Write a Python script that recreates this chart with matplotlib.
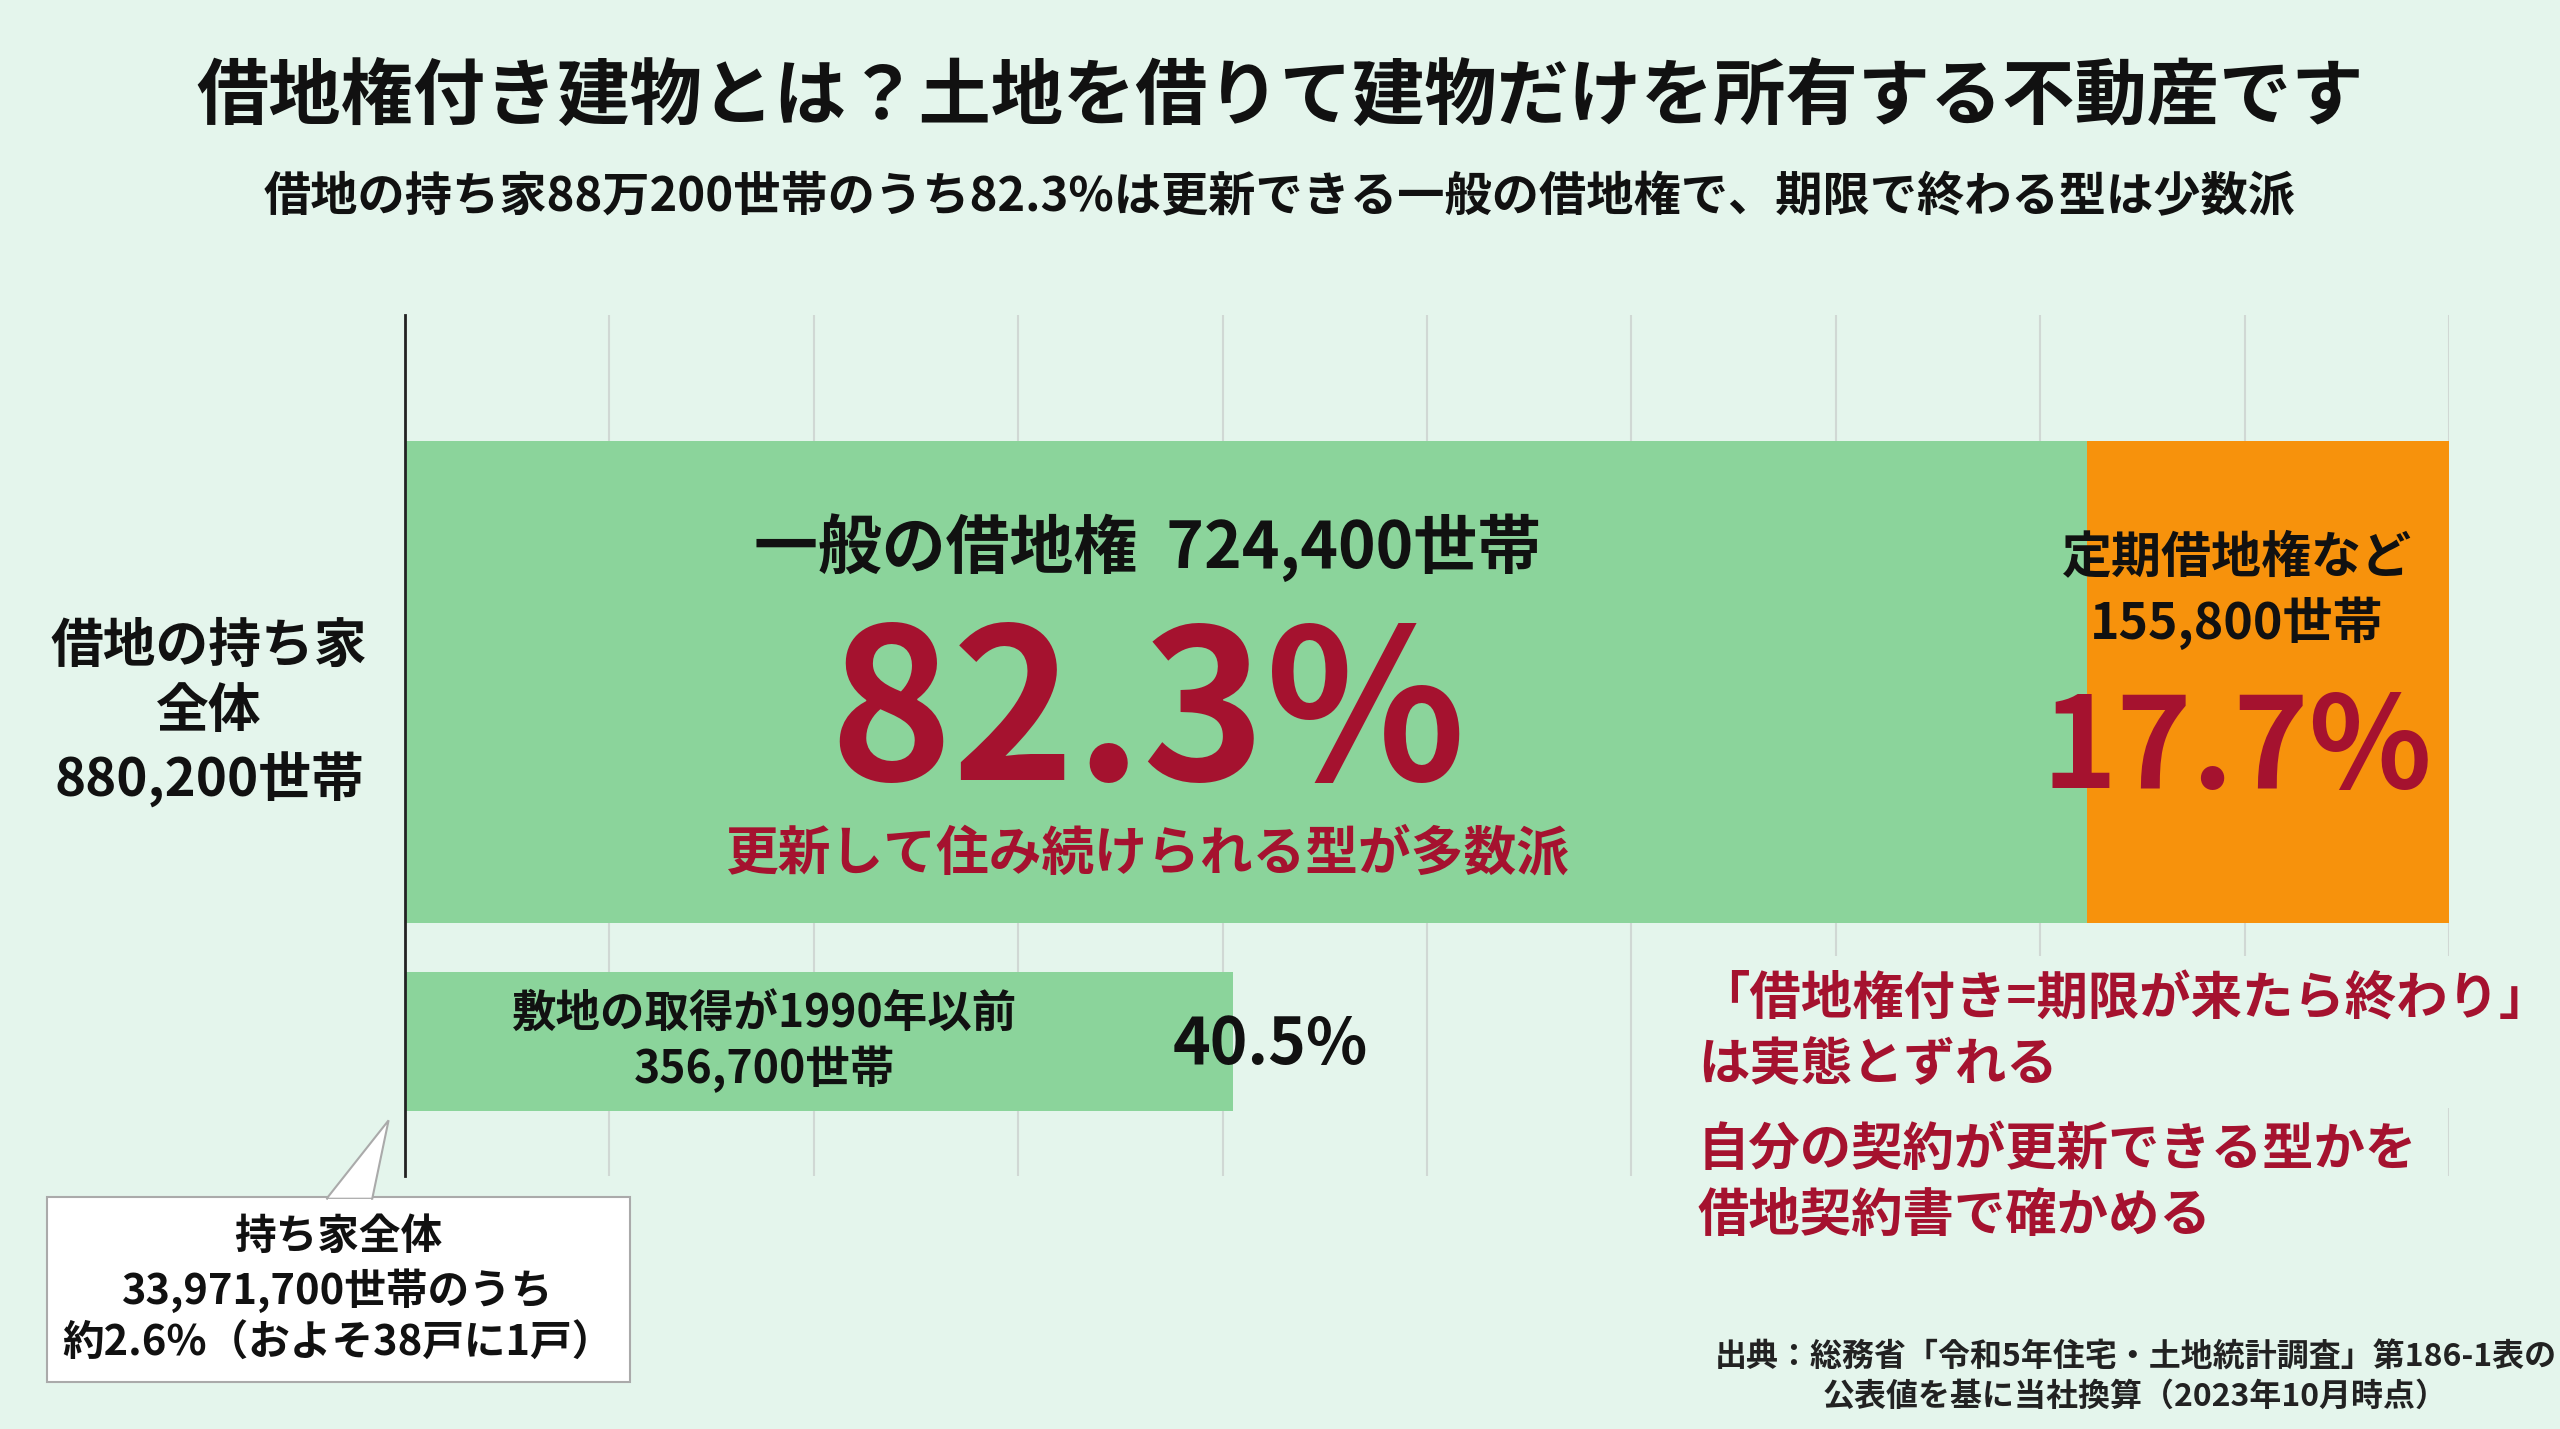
import matplotlib.pyplot as plt
from matplotlib.patches import FancyBboxPatch, Polygon
import numpy as np

plt.rcParams['font.family'] = ['Noto Sans CJK JP', 'DejaVu Sans']
plt.rcParams['font.weight'] = 'bold'

total = 880200
general = 724400
fixed = 155800
before_1990 = 356700
shares = [82.3, 17.7, 40.5]

GREEN = '#8bd49b'
ORANGE = '#f7920c'
RED = '#a5122f'
BG = '#e4f5ec'

W, H = 1568, 875  # layout units of the reference
fig = plt.figure(figsize=(25.6, 14.29), dpi=100)
fig.patch.set_facecolor(BG)

def fx(x): return x / W
def fy(y): return 1 - y / H

ax = fig.add_axes([fx(248), fy(720), fx(1500) - fx(248), fy(193) - fy(720)])
ax.set_facecolor('none')
ax.set_xlim(0, total)
ax.set_ylim(720, 193)
ax.set_xticks(np.linspace(0, total, 11))
ax.grid(axis='x', color='#d0d8d4', lw=1.5)
ax.set_axisbelow(True)
ax.tick_params(length=0, labelbottom=False, labelleft=False)
for s in ['top', 'right', 'bottom']:
    ax.spines[s].set_visible(False)
ax.spines['left'].set_linewidth(2)
ax.spines['left'].set_color('#222222')

ax.barh(417.5, general, height=295, color=GREEN, zorder=2)
ax.barh(417.5, fixed, left=general, height=295, color=ORANGE, zorder=2)
ax.barh(637.5, before_1990, height=85, color=GREEN, zorder=2)

fig.text(0.5, fy(60), '借地権付き建物とは？土地を借りて建物だけを所有する不動産です',
         ha='center', va='center', fontsize=52, color='#111111')
fig.text(0.5, fy(121), f'借地の持ち家88万200世帯のうち{shares[0]}%は更新できる一般の借地権で、期限で終わる型は少数派',
         ha='center', va='center', fontsize=34, color='#111111')

gx = fx(248 + (1238 - 248) / 2 - 40)
fig.text(gx, fy(335), f'一般の借地権  {general:,}世帯', ha='center', va='center', fontsize=46, color='#111111')
fig.text(gx, fy(440), f'{shares[0]}%', ha='center', va='center', fontsize=150, color=RED)
fig.text(gx, fy(523), '更新して住み続けられる型が多数派', ha='center', va='center', fontsize=38, color=RED)

ox = fx(1370)
fig.text(ox, fy(362), f'定期借地権など\n{fixed:,}世帯', ha='center', va='center', fontsize=36,
         color='#111111', linespacing=1.3)
fig.text(ox, fy(460), f'{shares[1]}%', ha='center', va='center', fontsize=92, color=RED)

fig.text(fx(128), fy(437), f'借地の持ち家\n全体\n{total:,}世帯', ha='center', va='center',
         fontsize=38, color='#111111', linespacing=1.3)

fig.text(fx(468), fy(638), f'敷地の取得が1990年以前\n{before_1990:,}世帯', ha='center', va='center',
         fontsize=32, color='#111111', linespacing=1.25)
fig.text(fx(718), fy(640), f'{shares[2]}%', ha='left', va='center', fontsize=46, color='#111111')

fig.text(fx(1040), fy(632), '「借地権付き=期限が来たら終わり」\nは実態とずれる', ha='left', va='center',
         fontsize=37, color=RED, linespacing=1.3,
         bbox=dict(facecolor=BG, edgecolor='none', pad=12))
fig.text(fx(1040), fy(724), '自分の契約が更新できる型かを\n借地契約書で確かめる', ha='left', va='center',
         fontsize=37, color=RED, linespacing=1.3,
         bbox=dict(facecolor=BG, edgecolor='none', pad=12))

# callout box
box = FancyBboxPatch((fx(29), fy(846)), fx(386) - fx(29), fy(733) - fy(846),
                     boxstyle='square,pad=0', transform=fig.transFigure,
                     facecolor='white', edgecolor='#aaaaaa', lw=1.5, zorder=5)
fig.patches.append(box)
tri = Polygon([[fx(200), fy(734)], [fx(238), fy(686)], [fx(228), fy(734)]], closed=True,
              transform=fig.transFigure, facecolor='white', edgecolor='#aaaaaa', lw=1.5, zorder=6)
fig.patches.append(tri)
fig.patches.append(Polygon([[fx(201), fy(735.5)], [fx(227), fy(735.5)]], closed=False,
                           transform=fig.transFigure, edgecolor='white', lw=3, zorder=7))
fig.text(fx(207), fy(790), '持ち家全体\n33,971,700世帯のうち\n約2.6%（およそ38戸に1戸）',
         ha='center', va='center', fontsize=30, color='#111111', linespacing=1.3, zorder=8)

fig.text(fx(1308), fy(843), '出典：総務省「令和5年住宅・土地統計調査」第186-1表の\n公表値を基に当社換算（2023年10月時点）',
         ha='center', va='center', fontsize=23, color='#222222', linespacing=1.35)

fig.savefig('out.png', dpi=100, facecolor=BG)
